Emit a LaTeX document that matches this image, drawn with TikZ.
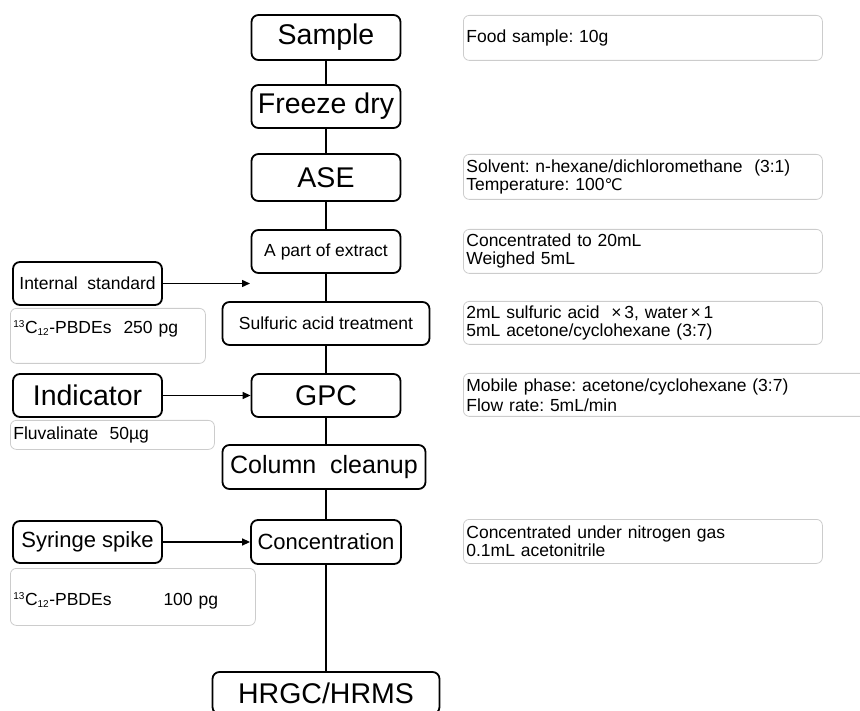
\documentclass[tikz,border=0pt]{standalone}
\usepackage{fontspec}
\setmainfont{Liberation Sans}
\newfontfamily\degfont{DejaVu Sans}
\usetikzlibrary{arrows.meta}

\begin{document}
\begin{tikzpicture}[x=1pt, y=-1pt,
    stage/.style={draw, line width=1.8pt, rounded corners=7pt, inner sep=0pt,
        minimum width=149pt, minimum height=43pt, font=\fontsize{28.5}{30}\selectfont},
    note/.style={draw=black!20, line width=0.8pt, rounded corners=6pt, anchor=north west,
        inner xsep=3pt, inner ysep=4pt, align=left, font=\fontsize{17.5}{18}\selectfont},
    link/.style={line width=2.5pt},
    feed/.style={line width=1.4pt, -{Triangle[length=8pt,width=7pt]}}]
    \useasboundingbox (0,0) rectangle (860,711);
    % main line
    \node[stage, minimum height=45pt] (sample) at (326,37.5) {Sample};
    \node[stage] (freeze) at (326,106.5) {Freeze dry};
    \node[stage, minimum height=47pt] (ase) at (326,177.5) {ASE};
    \node[stage, font=\fontsize{17.5}{19}\selectfont] (part) at (326,251.5) {A part of extract};
    \node[stage, minimum width=207pt, font=\fontsize{17.5}{19}\selectfont] (sulf) at (326,323.5) {Sulfuric acid treatment};
    \node[stage] (gpc) at (326,395.5) {GPC};
    \node[stage, minimum width=203pt, minimum height=44pt, font=\fontsize{25}{27}\selectfont] (column) at (324,467) {Column\ \ cleanup};
    \node[stage, minimum width=150pt, minimum height=44pt, font=\fontsize{22}{24}\selectfont] (conc) at (326,542) {Concentration};
    \node[stage, minimum width=227pt, minimum height=42pt] (hrgc) at (326,693) {HRGC/HRMS};
    \foreach \a/\b in {sample/freeze, freeze/ase, ase/part, part/sulf, sulf/gpc, gpc/column, column/conc, conc/hrgc}
        \draw[link] (\a.south -| sample) -- (\b.north -| sample);

    % additions
    \node[stage, font=\fontsize{17.5}{19}\selectfont] (intstd) at (87.5,283.5) {Internal\ \ standard};
    \node[stage] (indic) at (87.5,395.5) {Indicator};
    \node[stage, minimum height=42pt, font=\fontsize{22}{24}\selectfont] (syringe) at (87.5,542) {Syringe spike};
    \coordinate (intend) at (250,283.5);
    \draw[feed] (intstd) -- (intend);
    \draw[feed] (indic) -- (gpc);
    \draw[feed] (syringe) -- (conc);

    \node[note, text width=189pt, text height=21pt, text depth=26pt] (intnote) at (10,308)
        {\textsuperscript{\fontsize{10}{10}\selectfont 13}C\textsubscript{\fontsize{10}{10}\selectfont 12}-PBDEs\hspace{12pt}250 pg};
    \node[note, text width=198pt, minimum height=29pt, inner ysep=0pt] (indnote) at (10,420)
        {Fluvalinate\ \ 50µg};
    \node[note, text width=239pt, text height=33pt, text depth=16pt] (synote) at (10,568)
        {\textsuperscript{\fontsize{10}{10}\selectfont 13}C\textsubscript{\fontsize{10}{10}\selectfont 12}-PBDEs\hspace{52pt}100 pg};

    % conditions
    \node[note, text width=353pt, minimum height=45pt, inner ysep=0pt] (foodnote) at (463,15)
        {Food sample:\ 10g};
    \node[note, text width=353pt, minimum height=45pt, inner ysep=0pt] (asenote) at (463,154)
        {Solvent:\ n-hexane/dichloromethane\ \ (3:1)\\Temperature:\ 100{\degfont\fontsize{16}{18}\selectfont ℃}};
    \node[note, text width=353pt, minimum height=44pt, inner ysep=0pt] (partnote) at (463,229)
        {Concentrated to 20mL\\Weighed 5mL};
    \node[note, text width=353pt, minimum height=43pt, inner ysep=0pt] (sulfnote) at (463,301)
        {2mL sulfuric acid\ \ ×\,3, water\,×\,1\\5mL acetone/cyclohexane (3:7)};
    \node[note, text width=414pt, minimum height=43pt, inner ysep=0pt, font=\fontsize{17.5}{20}\selectfont] (gpcnote) at (463,373)
        {Mobile phase:\ acetone/cyclohexane (3:7)\\Flow\ rate:\ 5mL/min};
    \node[note, text width=353pt, minimum height=44pt, inner ysep=0pt] (concnote) at (463,519)
        {Concentrated under nitrogen gas\\0.1mL acetonitrile};
\end{tikzpicture}
\end{document}
